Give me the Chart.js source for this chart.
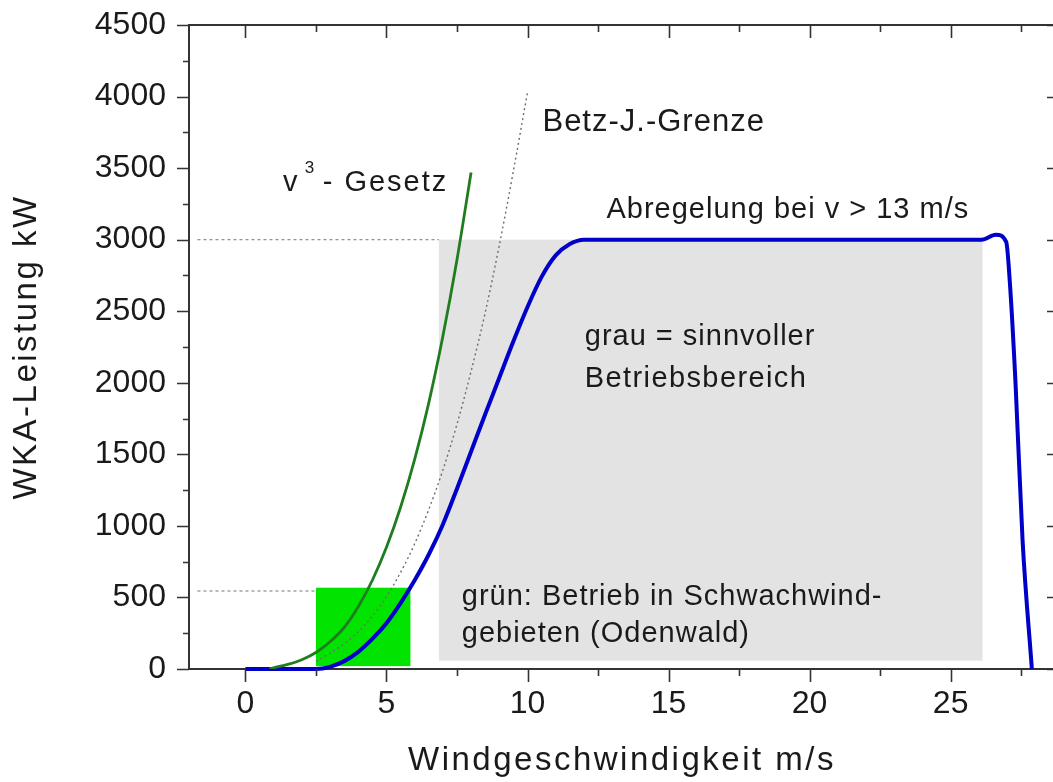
<!DOCTYPE html>
<html><head><meta charset="utf-8">
<script src="https://cdn.jsdelivr.net/npm/chart.js@4"></script>
<style>
html,body{margin:0;padding:0;overflow:hidden;background:#fff;width:1053px;height:782px}
#wrap{position:absolute;left:0;top:0;width:1060px;height:782px}
</style></head>
<body><div id="wrap"><canvas id="c" width="1060" height="782"></canvas></div>
<script>
// ---- data ----
const powerX = [0, 1, 2, 2.5, 3, 3.5, 4, 4.5, 5, 5.5, 6, 6.5, 7, 7.5, 8, 8.5, 9, 9.5, 10, 10.5, 11, 11.5, 12, 13, 15, 20, 25, 26.1, 26.6, 26.97, 27.1, 27.3, 27.55, 27.88];
const powerY = [0, 0, 0, 0, 15, 55, 120, 210, 320, 460, 620, 800, 1010, 1260, 1520, 1780, 2035, 2290, 2530, 2740, 2890, 2970, 3000, 3000, 3000, 3000, 3000, 3000, 3035, 2985, 2700, 2000, 900, 0];

const cubeX = [0.85, 1, 1.5, 2, 2.5, 3, 3.5, 4, 4.5, 5, 5.5, 6, 6.5, 7, 7.5, 8];
const cubeY = [0, 8, 32, 65, 115, 190, 290, 435, 620, 850, 1130, 1465, 1860, 2325, 2860, 3470];

const betzX = [2.5, 3, 3.5, 4, 4.5, 5, 5.5, 6, 6.5, 7, 7.5, 8, 8.5, 9, 9.5, 10];
const betzY = [55, 110, 175, 260, 370, 505, 675, 875, 1115, 1390, 1710, 2080, 2490, 2960, 3480, 4030];

const ratedLineX = [-1.7, 6.86];
const ratedLineY = [3000, 3000];
const lowLineX = [-1.7, 2.5];
const lowLineY = [545, 545];

const grayBoxX = [6.86, 26.13];
const grayBoxY = [58, 3000];
const greenBoxX = [2.5, 5.85];
const greenBoxY = [20, 568];

const xMajorTicks = [0, 5, 10, 15, 20, 25];
const xMinorTicks = [2.5, 7.5, 12.5, 17.5, 22.5, 27.5];
const yMajorTicks = [0, 500, 1000, 1500, 2000, 2500, 3000, 3500, 4000, 4500];
const yMinorTicks = [250, 750, 1250, 1750, 2250, 2750, 3250, 3750, 4250];

// ---- helpers ----
const toXY = (xs, ys) => xs.map((x, i) => ({x: x, y: ys[i]}));
const FONT = '"Liberation Sans", Arial, Helvetica, sans-serif';
const TXT = '#1a1a1a';
const AX = '#333333';

const annotations = [
  {text: 'Betz-J.-Grenze', x: 10.53, y: 3761, size: 31, sp: 1},
  {text: 'Abregelung bei v > 13 m/s', x: 12.8, y: 3149, size: 29, sp: 1},
  {text: 'grau = sinnvoller', x: 12.03, y: 2264, size: 29, sp: 1},
  {text: 'Betriebsbereich', x: 12.03, y: 1973, size: 29, sp: 1.4},
  {text: 'grün: Betrieb in Schwachwind-', x: 7.67, y: 447, size: 29, sp: 1},
  {text: 'gebieten (Odenwald)', x: 7.67, y: 191, size: 29, sp: 1},
  {text: 'v', x: 1.33, y: 3342, size: 29, sp: 0},
  {text: '3', x: 2.1, y: 3464, size: 17, sp: 0},
  {text: '- Gesetz', x: 2.74, y: 3342, size: 29, sp: 2}
];

const decor = {
  id: 'decor',
  beforeDraw(chart) {
    chart.ctx.letterSpacing = '2.5px';
  },
  beforeDatasetsDraw(chart) {
    const ctx = chart.ctx, xs = chart.scales.x, ys = chart.scales.y;
    ctx.letterSpacing = '0px';
    ctx.save();
    const rect = (bx, by, col) => {
      const x0 = xs.getPixelForValue(bx[0]), x1 = xs.getPixelForValue(bx[1]);
      const y0 = ys.getPixelForValue(by[1]), y1 = ys.getPixelForValue(by[0]);
      ctx.fillStyle = col;
      ctx.fillRect(x0, y0, x1 - x0, y1 - y0);
    };
    rect(grayBoxX, grayBoxY, '#e3e3e3');
    rect(greenBoxX, greenBoxY, '#00e400');
    ctx.restore();
  },
  afterDatasetsDraw(chart) {
    const ctx = chart.ctx, xs = chart.scales.x, ys = chart.scales.y, a = chart.chartArea;
    ctx.save();
    ctx.strokeStyle = AX;
    ctx.lineWidth = 2;
    ctx.beginPath();
    ctx.moveTo(a.left - 1, a.top); ctx.lineTo(a.right, a.top);
    ctx.moveTo(a.right, a.top); ctx.lineTo(a.right, a.bottom);
    ctx.stroke();
    ctx.lineWidth = 1.6;
    ctx.beginPath();
    xMajorTicks.forEach(v => {
      const p = Math.round(xs.getPixelForValue(v)) + 0.5;
      ctx.moveTo(p, a.bottom); ctx.lineTo(p, a.bottom + 13);
      ctx.moveTo(p, a.top); ctx.lineTo(p, a.top + 13);
    });
    xMinorTicks.forEach(v => {
      const p = Math.round(xs.getPixelForValue(v)) + 0.5;
      ctx.moveTo(p, a.bottom); ctx.lineTo(p, a.bottom + 7);
      ctx.moveTo(p, a.top); ctx.lineTo(p, a.top + 7);
    });
    yMajorTicks.forEach(v => {
      const p = Math.round(ys.getPixelForValue(v)) + 0.5;
      ctx.moveTo(a.left, p); ctx.lineTo(a.left - 12, p);
      ctx.moveTo(a.right, p); ctx.lineTo(a.right - 8, p);
    });
    yMinorTicks.forEach(v => {
      const p = Math.round(ys.getPixelForValue(v)) + 0.5;
      ctx.moveTo(a.left, p); ctx.lineTo(a.left - 6, p);
    });
    ctx.stroke();
    ctx.fillStyle = TXT;
    ctx.textAlign = 'left';
    ctx.textBaseline = 'alphabetic';
    annotations.forEach(t => {
      ctx.font = t.size + 'px ' + FONT;
      ctx.letterSpacing = t.sp + 'px';
      ctx.fillText(t.text, xs.getPixelForValue(t.x), ys.getPixelForValue(t.y));
    });
    ctx.letterSpacing = '0px';
    ctx.restore();
  }
};

new Chart(document.getElementById('c').getContext('2d'), {
  type: 'scatter',
  data: {
    datasets: [
      {data: toXY(ratedLineX, ratedLineY), showLine: true, borderColor: '#8c8c8c', borderWidth: 1.2, borderDash: [3, 3], pointRadius: 0},
      {data: toXY(lowLineX, lowLineY), showLine: true, borderColor: '#8c8c8c', borderWidth: 1.2, borderDash: [3, 3], pointRadius: 0},
      {data: toXY(betzX, betzY), showLine: true, borderColor: '#6e6e6e', borderWidth: 1.4, borderDash: [2, 3], pointRadius: 0, cubicInterpolationMode: 'monotone'},
      {data: toXY(cubeX, cubeY), showLine: true, borderColor: '#1f7d1f', borderWidth: 2.8, pointRadius: 0, cubicInterpolationMode: 'monotone'},
      {data: toXY(powerX, powerY), showLine: true, borderColor: '#0000c8', borderWidth: 4, pointRadius: 0, cubicInterpolationMode: 'monotone', clip: false}
    ]
  },
  options: {
    responsive: false,
    animation: false,
    events: [],
    layout: {padding: {left: 0, top: 25, right: 5, bottom: 0}},
    plugins: {legend: {display: false}, tooltip: {enabled: false}},
    scales: {
      x: {
        type: 'linear', min: -2, max: 28.7,
        afterBuildTicks: s => { s.ticks = xMajorTicks.map(v => ({value: v})); },
        afterFit: s => { s.height = 113; s.paddingLeft = 0; s.paddingRight = 0; },
        grid: {display: false, drawTicks: false},
        border: {display: true, color: AX, width: 2},
        ticks: {z: 1, padding: 16, color: TXT, font: {family: FONT, size: 32}, maxRotation: 0, autoSkip: false, callback: v => String(v)},
        title: {display: true, text: 'Windgeschwindigkeit m/s', color: TXT, font: {family: FONT, size: 33}, padding: {top: 0, bottom: 1}}
      },
      y: {
        type: 'linear', min: 0, max: 4500,
        afterBuildTicks: s => { s.ticks = yMajorTicks.map(v => ({value: v})); },
        afterFit: s => { s.width = 189; s.paddingTop = 0; s.paddingBottom = 0; },
        grid: {display: false, drawTicks: false},
        border: {display: true, color: AX, width: 2},
        ticks: {z: 1, padding: 23, color: TXT, font: {family: FONT, size: 32}, autoSkip: false, callback: v => String(v)},
        title: {display: true, text: 'WKA-Leistung kW', color: TXT, font: {family: FONT, size: 33}, padding: {top: 7, bottom: 0}}
      }
    }
  },
  plugins: [decor]
});
</script>
</body></html>
